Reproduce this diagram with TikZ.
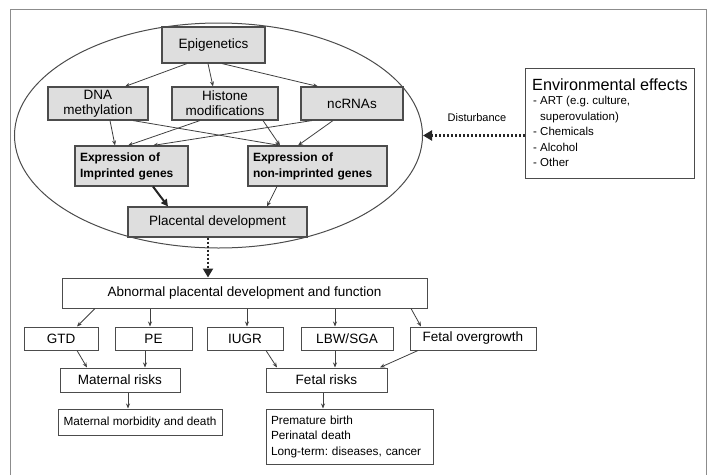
\documentclass[tikz,border=0pt]{standalone}
\usepackage{fontspec}
\setmainfont{Liberation Sans}
\usetikzlibrary{arrows.meta,shapes.geometric}
\frenchspacing
\begin{document}
\begin{tikzpicture}[x=1pt,y=-1pt,
  gbox/.style={draw=black!70,line width=1.1pt,fill=black!13,inner sep=2pt,align=center,font=\fontsize{13.5}{15}\selectfont},
  wbox/.style={draw=black!70,line width=1pt,fill=white,inner sep=2pt,align=center,font=\fontsize{13.5}{15}\selectfont},
  conn/.style={draw=black!75,line width=0.8pt,-{Stealth[length=5pt,width=4pt]}},
  dotarr/.style={draw=black!85,line width=2.4pt,dash pattern=on 2pt off 2pt,-{Triangle[length=9pt,width=10pt]}}]
\useasboundingbox (0,0) rectangle (713,475);
% frame
\draw[black!45,line width=0.8pt] (10,475) -- (10,9) -- (706,9) -- (706,475);
% ellipse
\node[ellipse,draw=black!70,line width=1pt,minimum width=408pt,minimum height=225pt,inner sep=0pt] (ell) at (218.5,135.5) {};
% upper boxes
\node[gbox,minimum width=103pt,minimum height=36pt] (epi) at (213.5,45) {Epigenetics};
\node[gbox,minimum width=100pt,minimum height=33pt] (dna) at (98,103.5) {DNA\\methylation};
\node[gbox,minimum width=106pt,minimum height=33pt] (his) at (225,103.5) {Histone\\modifications};
\node[gbox,minimum width=102pt,minimum height=33pt] (nc) at (352,103.5) {ncRNAs};
\node[gbox,minimum width=113pt,minimum height=40pt,align=left,text width=103pt,font=\fontsize{12}{16}\selectfont\bfseries] (imp) at (131.5,166) {Expression of\\Imprinted genes};
\node[gbox,minimum width=139pt,minimum height=40pt,align=left,text width=129pt,font=\fontsize{12}{16}\selectfont\bfseries] (nimp) at (317.5,166) {Expression of\\non-imprinted genes};
\node[gbox,minimum width=179pt,minimum height=30pt] (plac) at (217.5,222) {Placental development};
% environment
\node[draw=black!70,line width=1pt,fill=white,minimum width=169pt,minimum height=110pt] (env) at (609.5,123) {};
\node[anchor=west,inner sep=0pt,font=\fontsize{16.2}{18}\selectfont] (envt) at (532,85) {Environmental effects};
\node[anchor=north west,inner sep=0pt,align=left,font=\fontsize{11.5}{15.5}\selectfont] (envl) at (533,96) {- ART (e.g. culture,\\\hphantom{- }superovulation)\\- Chemicals\\- Alcohol\\- Other};
\node[inner sep=0pt,font=\fontsize{11}{12}\selectfont] (dist) at (477,118) {Disturbance};
\draw[dotarr] (env.west |- ell.east) -- (ell.east);
% lower boxes
\node[wbox,minimum width=365pt,minimum height=30pt] (abn) at (244.5,293) {Abnormal placental development and function};
\node[wbox,minimum width=74pt,minimum height=23pt] (gtd) at (61,338.5) {GTD};
\node[wbox,minimum width=77pt,minimum height=23pt] (pe) at (153.5,338.5) {PE};
\node[wbox,minimum width=76pt,minimum height=23pt] (iugr) at (245,338.5) {IUGR};
\node[wbox,minimum width=92pt,minimum height=23pt] (lbw) at (347,338.5) {LBW/SGA};
\node[wbox,minimum width=126pt,minimum height=23pt] (fo) at (473,338.5) {Fetal overgrowth};
\node[wbox,minimum width=120pt,minimum height=24pt] (mr) at (120,380) {Maternal risks};
\node[wbox,minimum width=121pt,minimum height=24pt] (fr) at (326.5,380) {Fetal risks};
\node[wbox,minimum width=164pt,minimum height=26pt,font=\fontsize{11.8}{13}\selectfont] (mmd) at (140,422) {Maternal morbidity and death};
\node[wbox,minimum width=167pt,minimum height=55pt,align=left,text width=157pt,font=\fontsize{11.8}{15.5}\selectfont] (pb) at (349.5,436.5) {Premature birth\\Perinatal death\\Long-term: diseases, cancer};
% upper connectors
\draw[conn] ([xshift=-26.5pt]epi.south) -- ([xshift=27pt]dna.north);
\draw[conn] ([xshift=-5.5pt]epi.south) -- ([xshift=-12pt]his.north);
\draw[conn] ([xshift=8.5pt]epi.south) -- ([xshift=-34pt]nc.north);
\draw[conn] ([xshift=12pt]dna.south) -- ([xshift=-16.5pt]imp.north);
\draw[conn] ([xshift=35pt]dna.south) -- ([xshift=-37.5pt]nimp.north);
\draw[conn] ([xshift=-25pt]his.south) -- ([xshift=-3.5pt]imp.north);
\draw[conn] ([xshift=38pt]his.south) -- ([xshift=-37.5pt]nimp.north);
\draw[conn] ([xshift=-40pt]nc.south) -- ([xshift=21.5pt]imp.north);
\draw[conn] ([xshift=-19pt]nc.south) -- ([xshift=-19.5pt]nimp.north);
\draw[draw=black!85,line width=2pt,-{Triangle[length=7pt,width=7pt]}] ([xshift=21.5pt]imp.south) -- ([xshift=-49.5pt]plac.north);
\draw[conn] ([xshift=-40.5pt]nimp.south) -- ([xshift=49.5pt]plac.north);
\draw[dotarr] ([xshift=-9.5pt]plac.south) -- ([xshift=-36.5pt]abn.north);
% lower connectors
\draw[conn] ([xshift=-149.5pt]abn.south) -- ([xshift=16pt]gtd.north);
\draw[conn] ([xshift=-94.5pt]abn.south) -- ([xshift=-3.5pt]pe.north);
\draw[conn] ([xshift=2.5pt]abn.south) -- ([xshift=2pt]iugr.north);
\draw[conn] ([xshift=90.5pt]abn.south) -- ([xshift=-12pt]lbw.north);
\draw[conn] ([xshift=166.5pt]abn.south) -- ([xshift=-52pt]fo.north);
\draw[conn] ([xshift=16pt]gtd.south) -- ([xshift=-33pt]mr.north);
\draw[conn] ([xshift=-8.5pt]pe.south) -- ([xshift=25pt]mr.north);
\draw[conn] ([xshift=21pt]iugr.south) -- ([xshift=-49.5pt]fr.north);
\draw[conn] ([xshift=-12pt]lbw.south) -- ([xshift=8.5pt]fr.north);
\draw[conn] ([xshift=-55pt]fo.south) -- ([xshift=53.5pt]fr.north);
\draw[conn] ([xshift=8pt]mr.south) -- ([xshift=-12pt]mmd.north);
\draw[conn] ([xshift=-3.5pt]fr.south) -- ([xshift=-26.5pt]pb.north);
\end{tikzpicture}
\end{document}
